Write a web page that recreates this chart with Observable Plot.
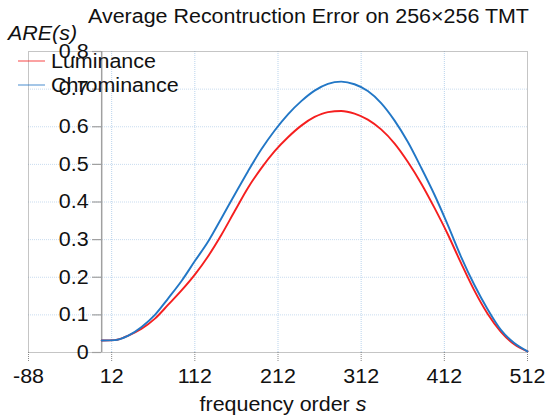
<!DOCTYPE html>
<html>
<head>
<meta charset="utf-8">
<script src="https://cdn.jsdelivr.net/npm/d3@7"></script>
<script src="https://cdn.jsdelivr.net/npm/@observablehq/plot@0.6"></script>
<style>
  html, body { margin: 0; padding: 0; background: #fff; }
  svg { font-family: "Liberation Sans", Arial, sans-serif; }
</style>
</head>
<body>
<div id="chart"></div>
<script>
const sValues = [0,16,32,48,64,80,96,112,128,144,160,176,192,208,224,240,256,272,288,304,320,336,352,368,384,400,416,432,448,464,480,496,512];
const luminance = [0.032,0.033,0.045,0.063,0.090,0.127,0.165,0.207,0.256,0.313,0.376,0.438,0.490,0.535,0.572,0.603,0.626,0.639,0.642,0.635,0.619,0.593,0.556,0.507,0.450,0.385,0.315,0.238,0.165,0.103,0.055,0.022,0.003];
const chrominance = [0.032,0.033,0.045,0.068,0.100,0.144,0.190,0.243,0.295,0.357,0.420,0.482,0.540,0.590,0.633,0.668,0.696,0.714,0.720,0.713,0.695,0.663,0.617,0.560,0.492,0.420,0.340,0.255,0.180,0.115,0.060,0.025,0.003];
const seriesNames = ["Luminance", "Chrominance"];
const seriesColors = ["#f51f1f", "#2277c6"];
const xTicks = [-88, 12, 112, 212, 312, 412, 512];
const yTicks = [0, 0.1, 0.2, 0.3, 0.4, 0.5, 0.6, 0.7, 0.8];
const titleText = "Average Recontruction Error on 256×256 TMT";
const xLabel = "frequency order ";
const yLabel = "ARE(s)";

const data = [];
sValues.forEach((s, i) => {
  data.push({s, v: luminance[i], series: seriesNames[0]});
  data.push({s, v: chrominance[i], series: seriesNames[1]});
});

const fmt = d => d === 0 ? "0" : d.toFixed(1);
const FS = 19.5;

const chart = Plot.plot({
  width: 547,
  height: 419,
  marginLeft: 28,
  marginRight: 20,
  marginTop: 51,
  marginBottom: 67,
  style: {fontFamily: '"Liberation Sans", Arial, sans-serif', background: "#fff"},
  x: {domain: [-88, 512], ticks: xTicks, label: null},
  y: {domain: [0, 0.8], ticks: yTicks, label: null, axis: null},
  color: {domain: seriesNames, range: seriesColors},
  marks: [
    Plot.gridX(xTicks.slice(1, -1), {stroke: "#b9d3ec", strokeOpacity: 1, strokeDasharray: "1,1"}),
    Plot.gridY(yTicks.slice(1, -1), {stroke: "#c9dcef", strokeOpacity: 1, strokeDasharray: "1,1"}),
    Plot.frame({stroke: "#8a8a8a", strokeDasharray: "1,1"}),
    Plot.axisX(xTicks, {tickSize: 9, tickPadding: 8, fontSize: FS, stroke: "#888", strokeDasharray: "1,1", color: "#111", label: null, tickFormat: d => String(d)}),
    Plot.ruleX([0], {stroke: "#a0a0a0", strokeWidth: 1.5}),
    Plot.ruleY(yTicks, {x1: -11, x2: 0, stroke: "#a0a0a0", strokeWidth: 1.2}),
    Plot.line(data, {x: "s", y: "v", stroke: "series", strokeWidth: 1.9, curve: "monotone-x"}),
    Plot.text(yTicks, {x: 0, y: d => d, text: fmt, dx: -13, textAnchor: "end", fontSize: FS, fill: "#111"})
  ]
});

const svg = d3.select(chart);
svg.append("text").attr("x", 88).attr("y", 23).attr("font-size", FS).attr("text-anchor", "start").attr("fill", "#111").text(titleText);
svg.append("text").attr("x", 8).attr("y", 40).attr("font-size", FS).attr("text-anchor", "start").attr("font-style", "italic").attr("fill", "#111").text(yLabel);
const xl = svg.append("text").attr("x", 283).attr("y", 411).attr("font-size", FS).attr("text-anchor", "middle").attr("fill", "#111");
xl.append("tspan").text(xLabel);
xl.append("tspan").attr("font-style", "italic").text("s");
seriesNames.forEach((name, i) => {
  const y = 61 + i * 24;
  svg.append("line").attr("x1", 18).attr("x2", 45).attr("y1", y).attr("y2", y).attr("stroke", seriesColors[i]).attr("stroke-opacity", 0.55).attr("stroke-width", 1.5);
  svg.append("text").attr("x", 51).attr("y", y + 7).attr("font-size", FS).attr("text-anchor", "start").attr("fill", "#111").text(name);
});

document.getElementById("chart").appendChild(chart);

// widen glyphs slightly to match the reference's wider lettering
svg.selectAll("text").each(function() {
  if (this.parentNode && this.parentNode.tagName === "text") return;
  const len = this.getComputedTextLength();
  if (len > 0) {
    d3.select(this).attr("textLength", len * 1.1).attr("lengthAdjust", "spacingAndGlyphs");
  }
});
</script>
</body>
</html>
